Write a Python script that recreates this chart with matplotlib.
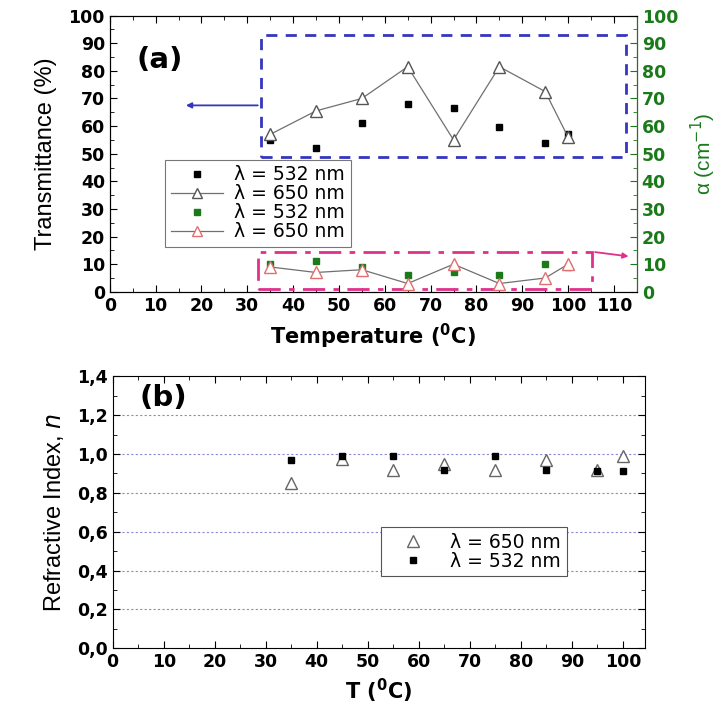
import matplotlib.pyplot as plt
from matplotlib.lines import Line2D
from matplotlib.patches import Rectangle

# Panel (a): transmittance (left axis) and absorption coefficient (right axis)
temp = [35, 45, 55, 65, 75, 85, 95, 100]
trans_532 = [55, 52, 61, 68, 66.5, 59.5, 54, 57]
trans_650 = [57, 65.5, 70, 81.5, 55, 81.5, 72.5, 56]
alpha_532 = [10, 11, 9, 6, 7, 6, 10, 9]
alpha_650 = [9, 7, 8, 3, 10, 3, 5, 10]

# Panel (b): refractive index
n_650 = [0.85, 0.975, 0.92, 0.95, 0.92, 0.97, 0.92, 0.99]
n_532 = [0.97, 0.99, 0.99, 0.92, 0.99, 0.92, 0.91, 0.91]

plt.rcParams['font.family'] = ['DejaVu Sans']
plt.rcParams['mathtext.fontset'] = 'dejavusans'

green = '#1a7a1a'
pink_edge = '#e07070'
tick_font = dict(family='DejaVu Sans', weight='bold', size=12.5)

fig = plt.figure(figsize=(7.27, 7.10), dpi=100)

# ---------- panel (a) ----------
ax = fig.add_axes([0.151, 0.589, 0.725, 0.389])
ax2 = ax.twinx()

ax.plot(temp, trans_532, 's', color='black', markersize=5, linestyle='none')
ax.plot(temp, trans_650, '-^', color='#707070', lw=0.9, markersize=8,
        markerfacecolor='white', markeredgecolor='#555555')
ax2.plot(temp, alpha_532, 's', color=green, markersize=5, linestyle='none')
ax2.plot(temp, alpha_650, '-^', color='#707070', lw=0.9, markersize=8,
         markerfacecolor='white', markeredgecolor=pink_edge)

ax.set_xlim(0, 115)
ax.set_ylim(0, 100)
ax2.set_ylim(0, 100)
ax.set_xticks(range(0, 111, 10))
ax.set_xticks(range(5, 116, 10), minor=True)
ax.set_yticks(range(0, 101, 10))
ax.set_yticks(range(5, 100, 10), minor=True)
ax2.set_yticks(range(0, 101, 10))
ax2.set_yticks(range(5, 100, 10), minor=True)

ax.tick_params(which='both', direction='in', top=True)
ax.tick_params(which='major', length=5)
ax.tick_params(which='minor', length=3)
ax2.tick_params(which='both', direction='in', colors=green)
ax2.tick_params(which='major', length=5)
ax2.tick_params(which='minor', length=3)
ax2.spines['right'].set_color(green)
for lab in ax.get_xticklabels() + ax.get_yticklabels() + ax2.get_yticklabels():
    lab.set_fontproperties(tick_font)

ax.set_xlabel(r'Temperature ($\mathbf{^0}$C)', fontsize=15, fontweight='bold', labelpad=5)
ax.set_ylabel('Transmittance (%)', fontsize=17, family='Liberation Sans', labelpad=8)
ax2.set_ylabel('α (cm$^{-1}$)', fontsize=15, color=green, family='Liberation Sans', labelpad=8)

# highlight boxes and arrows
ax.add_patch(Rectangle((32.9, 48.9), 79.8, 44.2, fill=False, edgecolor='#3535c0',
                       lw=2, linestyle=(0, (4, 3))))
ax2.add_patch(Rectangle((32.4, 1), 72.9, 13.5, fill=False, edgecolor='#e0308a',
                        lw=2, linestyle=(0, (8, 3, 2, 3))))
ax.annotate('', xy=(16, 67.5), xytext=(32.9, 67.5),
            arrowprops=dict(arrowstyle='-|>', color='#3535c0', lw=1.3, mutation_scale=8))
ax2.annotate('', xy=(113.8, 12.7), xytext=(105.3, 14.5),
             arrowprops=dict(arrowstyle='-|>', color='#e0308a', lw=1.3, mutation_scale=8),
             annotation_clip=False)

ax.text(0.05, 0.84, '(a)', transform=ax.transAxes, fontsize=21, fontweight='bold', va='center')

handles = [
    Line2D([], [], marker='s', color='black', linestyle='none', markersize=5),
    Line2D([], [], marker='^', color='#707070', lw=0.9, markersize=7,
           markerfacecolor='white', markeredgecolor='#555555'),
    Line2D([], [], marker='s', color=green, linestyle='none', markersize=5),
    Line2D([], [], marker='^', color='#707070', lw=0.9, markersize=7,
           markerfacecolor='white', markeredgecolor=pink_edge),
]
labels = ['λ = 532 nm', 'λ = 650 nm', 'λ = 532 nm', 'λ = 650 nm']
leg = ax2.legend(handles, labels, loc='upper left', bbox_to_anchor=(0.105, 0.478),
                 borderaxespad=0, fontsize=13.5, frameon=True, fancybox=False,
                 edgecolor='#555555', borderpad=0.3, labelspacing=0.0,
                 handlelength=2.8, handletextpad=0.6)
leg.get_frame().set_linewidth(0.8)

# ---------- panel (b) ----------
bx = fig.add_axes([0.155, 0.087, 0.732, 0.383])
bx.plot(temp, n_650, '^', linestyle='none', markersize=8,
        markerfacecolor='white', markeredgecolor='#666666', label='λ = 650 nm')
bx.plot(temp, n_532, 's', linestyle='none', markersize=5, color='black',
        label='λ = 532 nm')

bx.set_xlim(0, 104.3)
bx.set_ylim(0, 1.4)
bx.set_xticks(range(0, 101, 10))
bx.set_xticks(range(5, 101, 10), minor=True)
yt = [0.0, 0.2, 0.4, 0.6, 0.8, 1.0, 1.2, 1.4]
bx.set_yticks(yt)
bx.set_yticklabels([f'{v:.1f}'.replace('.', ',') for v in yt])
bx.set_yticks([0.1, 0.3, 0.5, 0.7, 0.9, 1.1, 1.3], minor=True)
bx.tick_params(which='both', direction='in', top=True, right=True)
bx.tick_params(which='major', length=5)
bx.tick_params(which='minor', length=3)
for lab in bx.get_xticklabels() + bx.get_yticklabels():
    lab.set_fontproperties(tick_font)
for v in yt[1:-1]:
    bx.axhline(v, color='#8a8ad0', lw=0.8, linestyle=(0, (2, 2)), zorder=0)

bx.set_xlabel(r'T ($\mathbf{^0}$C)', fontsize=15, fontweight='bold', labelpad=4)
bx.set_ylabel('Refractive Index, $\\it{n}$', fontsize=17, family='Liberation Sans', labelpad=8)
bx.text(0.05, 0.92, '(b)', transform=bx.transAxes, fontsize=21, fontweight='bold', va='center')
legb = bx.legend(loc='upper left', bbox_to_anchor=(0.504, 0.445), borderaxespad=0,
                 fontsize=13.5, frameon=True, fancybox=False, edgecolor='#555555',
                 borderpad=0.3, labelspacing=0.0, handlelength=2.8, handletextpad=0.6)
legb.get_frame().set_linewidth(0.8)
legb.get_frame().set_alpha(1)

fig.savefig('out.png', dpi=100)
